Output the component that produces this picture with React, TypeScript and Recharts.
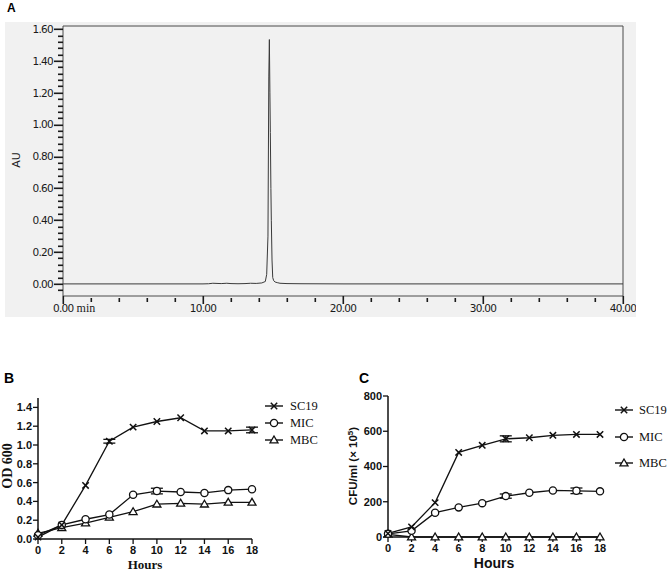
import React from "react";
import { LineChart, Line, XAxis, YAxis, ReferenceLine, ErrorBar } from "recharts";

// ---- panel A: HPLC trace ----
const hplcMin = [0, 5, 10, 10.4, 10.7, 11.0, 11.3, 11.7, 12.0, 12.5, 13.0, 13.4, 13.8, 14.2, 14.45, 14.55, 14.64, 14.7, 14.74, 14.78, 14.81, 14.85, 14.88, 14.93, 14.98, 15.05, 15.15, 15.3, 15.5, 16.0, 17.0, 20, 30, 40];
const hplcAU = [0, 0, 0, 0.001, 0.004, 0.003, 0.002, 0.004, 0.002, 0.001, 0.002, 0.004, 0.003, 0.006, 0.015, 0.06, 0.3, 1.3, 1.535, 1.2, 0.95, 0.6, 0.4, 0.15, 0.04, 0.02, 0.012, 0.008, 0.004, 0.002, 0.001, 0, 0, 0];
const auMajor = [0, 0.2, 0.4, 0.6, 0.8, 1.0, 1.2, 1.4, 1.6];
const auDomain = [-0.076, 1.62];
const minMajor = [0, 10, 20, 30, 40];

// ---- panels B and C: growth curves ----
const hours = [0, 2, 4, 6, 8, 10, 12, 14, 16, 18];
const odSC19 = [0.02, 0.15, 0.57, 1.04, 1.19, 1.25, 1.29, 1.15, 1.15, 1.16];
const odMIC = [0.04, 0.15, 0.21, 0.26, 0.47, 0.51, 0.5, 0.49, 0.52, 0.53];
const odMBC = [0.06, 0.12, 0.17, 0.23, 0.29, 0.37, 0.38, 0.37, 0.39, 0.39];
const odSC19Err = [null, null, null, 0.02, null, null, null, null, null, 0.03];
const odMICErr = [null, null, null, null, null, 0.03, null, null, null, null];
const odTicks = [0, 0.2, 0.4, 0.6, 0.8, 1.0, 1.2, 1.4];

const cfuSC19 = [20, 57, 195, 480, 520, 557, 563, 577, 582, 582];
const cfuMIC = [18, 35, 138, 168, 192, 232, 251, 264, 262, 259];
const cfuMBC = [15, 0, 0, 0, 0, 0, 0, 0, 0, 0];
const cfuSC19Err = [null, null, null, null, null, 17, null, null, null, null];
const cfuMICErr = [null, null, null, null, null, 12, null, null, 16, null];
const cfuTicks = [0, 200, 400, 600, 800];

const hplcData = hplcMin.map((t, i) => ({ t, au: hplcAU[i] }));
const auTicks = Array.from({ length: 42 }, (_, i) => +(-0.04 + i * 0.04).toFixed(2));
const minTicks = Array.from({ length: 21 }, (_, i) => i * 2);

const odData = hours.map((h, i) => ({
  h, sc19: odSC19[i], mic: odMIC[i], mbc: odMBC[i], sc19Err: odSC19Err[i], micErr: odMICErr[i],
}));
const cfuData = hours.map((h, i) => ({
  h, sc19: cfuSC19[i], mic: cfuMIC[i], mbc: cfuMBC[i], sc19Err: cfuSC19Err[i], micErr: cfuMICErr[i],
}));

const INK = "#111";
const FRAME = "#4a4a4a";
const TICK = "#1a1a1a";
const ARIAL = "'Liberation Sans', Arial, sans-serif";
const TIMES = "'Liberation Serif', 'Times New Roman', serif";
const HPLC_FONT = "'DejaVu Sans', sans-serif";

function Marker({ kind, cx, cy }: { kind: string; cx: number; cy: number }) {
  if (kind === "x") {
    const s = 3.2;
    return <path d={`M${cx - s},${cy - s}L${cx + s},${cy + s}M${cx - s},${cy + s}L${cx + s},${cy - s}`} stroke={INK} strokeWidth={1.5} fill="none" />;
  }
  if (kind === "o") return <circle cx={cx} cy={cy} r={3.6} fill="#fff" stroke={INK} strokeWidth={1.3} />;
  return <path d={`M${cx},${cy - 4}L${cx + 4},${cy + 2.8}L${cx - 4},${cy + 2.8}Z`} fill="#fff" stroke={INK} strokeWidth={1.3} />;
}

const dotOf = (kind: string) => (p: any) => {
  if (p.cx == null || p.cy == null) return <g key={p.index} />;
  return <Marker key={p.index} kind={kind} cx={p.cx} cy={p.cy} />;
};

// tick marks as small rects snapped to the pixel grid
function AuTick(props: any) {
  const { x, y, payload } = props;
  const v = payload.value;
  const major = auMajor.some((m) => Math.abs(m - v) < 1e-6);
  const len = major ? 9 : 5;
  return (
    <g>
      <rect x={Math.round(x) - len} y={Math.round(y) - 0.5} width={len} height={1.6} fill={TICK} />
      {major && (
        <text x={x - len - 1} y={y} dy="0.36em" textAnchor="end" fontFamily={HPLC_FONT} fontSize={10.5} fill="#1a1a1a" letterSpacing={-0.7}>
          {v.toFixed(2)}
        </text>
      )}
    </g>
  );
}

function MinTick(props: any) {
  const { x, y, payload } = props;
  const v = payload.value;
  const major = minMajor.includes(v);
  return (
    <g>
      <rect x={Math.round(x) - 0.5} y={major ? y : y + 2} width={1.6} height={major ? 8 : 4} fill={TICK} />
      {major && (
        <text x={v === 0 ? x - 10 : x} y={y + 9} dy="0.71em" textAnchor={v === 0 ? "start" : "middle"} fontFamily={HPLC_FONT} fontSize={10.5} fill="#1a1a1a" letterSpacing={-0.7}>
          {v.toFixed(2)}
          {v === 0 && <tspan fontFamily={TIMES} fontSize={12} letterSpacing={0}> min</tspan>}
        </text>
      )}
    </g>
  );
}

function Abs({ left, top, children, style }: any) {
  return <div style={{ position: "absolute", left, top, whiteSpace: "nowrap", lineHeight: 1, ...style }}>{children}</div>;
}

function VLabel({ cx, cy, children, style }: any) {
  return (
    <div style={{ position: "absolute", left: cx, top: cy, whiteSpace: "nowrap", lineHeight: 1, transform: "translate(-50%, -50%) rotate(-90deg)", ...style }}>
      {children}
    </div>
  );
}

function KeyRow({ kind, label, left, top, font }: any) {
  return (
    <div style={{ position: "absolute", left, top: top - 6, height: 12, display: "flex", alignItems: "center" }}>
      <svg width={18} height={12} style={{ display: "block" }}>
        <line x1={0} y1={6} x2={18} y2={6} stroke={INK} strokeWidth={1.4} />
        <Marker kind={kind} cx={9} cy={6} />
      </svg>
      <span style={{ marginLeft: font.gap, fontFamily: TIMES, fontSize: font.size, color: INK }}>{label}</span>
    </div>
  );
}

const growthTick = { fontFamily: ARIAL, fontSize: 11, fontWeight: 700, fill: INK };

export default function App() {
  return (
    <div style={{ position: "absolute", left: 0, top: 0, width: 667, height: 572, background: "#fff", overflow: "hidden" }}>
      {/* A */}
      <Abs left={7} top={2} style={{ fontFamily: ARIAL, fontWeight: 700, fontSize: 12 }}>A</Abs>
      <div style={{ position: "absolute", left: 5, top: 22, width: 631, height: 295, background: "#f1f1f1", overflow: "hidden" }}>
        <LineChart width={631} height={295} data={hplcData} margin={{ top: 4, right: 13, bottom: 0, left: 0 }}>
          <XAxis dataKey="t" type="number" domain={[0, 40]} ticks={minTicks} interval={0} height={21}
            tickSize={0} tickMargin={0} tickLine={false} tick={<MinTick />} axisLine={{ stroke: FRAME }} />
          <YAxis type="number" domain={auDomain} ticks={auTicks} interval={0} width={58}
            tickSize={0} tickMargin={0} tickLine={false} tick={<AuTick />} axisLine={{ stroke: FRAME }} />
          <ReferenceLine y={auDomain[1]} stroke={FRAME} />
          <ReferenceLine x={40} stroke={FRAME} />
          <Line dataKey="au" type="linear" stroke="#3a3a3a" strokeWidth={1} dot={false} isAnimationActive={false} />
        </LineChart>
        <VLabel cx={11} cy={138} style={{ fontFamily: HPLC_FONT, fontSize: 11, color: "#1a1a1a" }}>AU</VLabel>
      </div>

      {/* B */}
      <Abs left={4} top={371} style={{ fontFamily: ARIAL, fontWeight: 700, fontSize: 14 }}>B</Abs>
      <div style={{ position: "absolute", left: 0, top: 390, width: 262, height: 182 }}>
        <LineChart width={262} height={182} data={odData} margin={{ top: 8, right: 10, bottom: 0, left: 0 }}>
          <XAxis dataKey="h" type="number" domain={[0, 18]} ticks={hours} interval={0} height={33}
            tickSize={5} tickMargin={2} tick={growthTick} stroke={INK} axisLine={{ stroke: INK, strokeWidth: 1.5 }} tickLine={{ stroke: INK, strokeWidth: 1.3 }} />
          <YAxis type="number" domain={[0, 1.5]} ticks={odTicks} interval={0} width={38} tickFormatter={(v: number) => v.toFixed(1)}
            tickSize={5} tickMargin={1} tick={growthTick} stroke={INK} axisLine={{ stroke: INK, strokeWidth: 1.5 }} tickLine={{ stroke: INK, strokeWidth: 1.3 }} />
          <Line dataKey="mbc" stroke={INK} strokeWidth={1.3} dot={dotOf("t")} isAnimationActive={false} />
          <Line dataKey="mic" stroke={INK} strokeWidth={1.3} dot={dotOf("o")} isAnimationActive={false}>
            <ErrorBar dataKey="micErr" width={6} stroke={INK} strokeWidth={1.3} direction="y" isAnimationActive={false} />
          </Line>
          <Line dataKey="sc19" stroke={INK} strokeWidth={1.3} dot={dotOf("x")} isAnimationActive={false}>
            <ErrorBar dataKey="sc19Err" width={6} stroke={INK} strokeWidth={1.3} direction="y" isAnimationActive={false} />
          </Line>
        </LineChart>
      </div>
      <VLabel cx={8} cy={466} style={{ fontFamily: TIMES, fontWeight: 700, fontSize: 14, color: INK }}>OD 600</VLabel>
      <Abs left={145} top={558} style={{ fontFamily: TIMES, fontWeight: 700, fontSize: 13, color: INK, transform: "translateX(-50%)" }}>Hours</Abs>
      <KeyRow kind="x" label="SC19" left={265} top={406} font={{ size: 12.5, gap: 7 }} />
      <KeyRow kind="o" label="MIC" left={265} top={423} font={{ size: 12.5, gap: 7 }} />
      <KeyRow kind="t" label="MBC" left={265} top={440} font={{ size: 12.5, gap: 7 }} />

      {/* C */}
      <Abs left={359} top={371} style={{ fontFamily: ARIAL, fontWeight: 700, fontSize: 14 }}>C</Abs>
      <div style={{ position: "absolute", left: 330, top: 388, width: 280, height: 184 }}>
        <LineChart width={280} height={184} data={cfuData} margin={{ top: 8, right: 10, bottom: 0, left: 0 }}>
          <XAxis dataKey="h" type="number" domain={[0, 18]} ticks={hours} interval={0} height={35}
            tickSize={5} tickMargin={2} tick={growthTick} stroke={INK} axisLine={{ stroke: INK, strokeWidth: 1.5 }} tickLine={{ stroke: INK, strokeWidth: 1.3 }} />
          <YAxis type="number" domain={[0, 800]} ticks={cfuTicks} interval={0} width={58}
            tickSize={5} tickMargin={1} tick={growthTick} stroke={INK} axisLine={{ stroke: INK, strokeWidth: 1.5 }} tickLine={{ stroke: INK, strokeWidth: 1.3 }} />
          <Line dataKey="mbc" stroke={INK} strokeWidth={1.3} dot={dotOf("t")} isAnimationActive={false} />
          <Line dataKey="mic" stroke={INK} strokeWidth={1.3} dot={dotOf("o")} isAnimationActive={false}>
            <ErrorBar dataKey="micErr" width={6} stroke={INK} strokeWidth={1.3} direction="y" isAnimationActive={false} />
          </Line>
          <Line dataKey="sc19" stroke={INK} strokeWidth={1.3} dot={dotOf("x")} isAnimationActive={false}>
            <ErrorBar dataKey="sc19Err" width={6} stroke={INK} strokeWidth={1.3} direction="y" isAnimationActive={false} />
          </Line>
        </LineChart>
      </div>
      <VLabel cx={354} cy={466} style={{ fontFamily: ARIAL, fontWeight: 700, fontSize: 11.5, color: INK }}>
        CFU/ml (× 10<sup style={{ fontSize: 8, verticalAlign: "4px", lineHeight: 0 }}>5</sup>)
      </VLabel>
      <Abs left={494} top={556} style={{ fontFamily: ARIAL, fontWeight: 700, fontSize: 14, color: INK, transform: "translateX(-50%)" }}>Hours</Abs>
      <KeyRow kind="x" label="SC19" left={615} top={410} font={{ size: 12.5, gap: 6 }} />
      <KeyRow kind="o" label="MIC" left={615} top={437} font={{ size: 12.5, gap: 6 }} />
      <KeyRow kind="t" label="MBC" left={615} top={463} font={{ size: 12.5, gap: 6 }} />
    </div>
  );
}
